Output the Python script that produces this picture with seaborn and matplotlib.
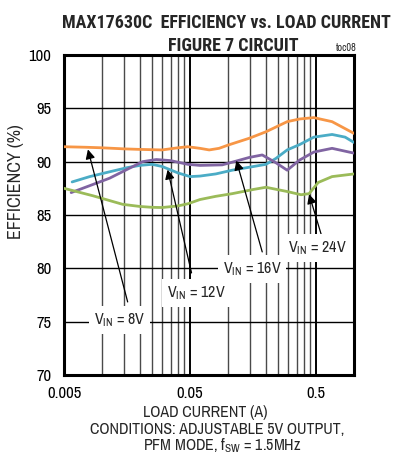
import numpy as np
import pandas as pd
import matplotlib
matplotlib.use("Agg")
import matplotlib.pyplot as plt
import seaborn as sns
from matplotlib.ticker import FixedLocator, NullFormatter

# ---------------- data ----------------
i_8v = [0.005, 0.0075, 0.01, 0.015, 0.02, 0.03, 0.04, 0.048, 0.06, 0.071, 0.085,
        0.1, 0.148, 0.2, 0.295, 0.37, 0.48, 0.67, 1.0]
eff_8v = [91.4, 91.35, 91.3, 91.2, 91.15, 91.1, 91.3, 91.4, 91.25, 91.1, 91.25,
          91.55, 92.2, 92.8, 93.75, 94.0, 94.13, 93.75, 92.65]

i_12v = [0.0058, 0.008, 0.0115, 0.016, 0.02, 0.025, 0.03, 0.04, 0.05, 0.06, 0.08,
         0.108, 0.16, 0.2, 0.24, 0.295, 0.37, 0.48, 0.67, 0.85, 1.0]
eff_12v = [88.1, 88.6, 89.05, 89.45, 89.65, 89.75, 89.55, 88.95, 88.6, 88.65, 88.85,
           89.2, 89.55, 89.75, 90.3, 91.1, 91.6, 92.3, 92.55, 92.3, 91.8]

i_16v = [0.0057, 0.008, 0.0115, 0.016, 0.021, 0.027, 0.035, 0.048, 0.06, 0.09,
         0.108, 0.148, 0.187, 0.24, 0.295, 0.37, 0.48, 0.67, 1.0]
eff_16v = [87.1, 87.75, 88.45, 89.3, 90.0, 90.2, 90.1, 89.75, 89.65, 89.7,
           89.95, 90.4, 90.63, 89.9, 89.2, 90.15, 90.9, 91.25, 90.8]

i_24v = [0.005, 0.0085, 0.0146, 0.02, 0.025, 0.03, 0.04, 0.048, 0.06, 0.08, 0.108,
         0.16, 0.2, 0.295, 0.38, 0.44, 0.52, 0.67, 1.0]
eff_24v = [87.5, 86.8, 86.0, 85.8, 85.72, 85.7, 85.85, 86.05, 86.45, 86.75, 87.0,
           87.4, 87.6, 87.2, 86.9, 87.0, 88.05, 88.6, 88.85]

series_names = ["8V", "12V", "16V", "24V"]
series_colors = ["#F79646", "#4BACC6", "#8064A2", "#9BBB59"]

x_major = [0.005, 0.05, 0.5]
x_major_labels = ["0.005", "0.05", "0.5"]
y_ticks = [70, 75, 80, 85, 90, 95, 100]

# ---------------- build frame ----------------
frames = []
for name, xs, ys in zip(series_names,
                        [i_8v, i_12v, i_16v, i_24v],
                        [eff_8v, eff_12v, eff_16v, eff_24v]):
    frames.append(pd.DataFrame({"I": xs, "eff": ys, "vin": name}))
df = pd.concat(frames, ignore_index=True)

# ---------------- style ----------------
sns.set_theme(style="white")
REG = ['Archivo Narrow', 'Liberation Sans', 'DejaVu Sans']
BOLD = ['Roboto Condensed', 'Encode Sans Condensed', 'Liberation Sans', 'DejaVu Sans']
plt.rcParams['font.family'] = REG
plt.rcParams['mathtext.fontset'] = 'custom'
plt.rcParams['mathtext.rm'] = 'Archivo Narrow'
plt.rcParams['mathtext.it'] = 'Archivo Narrow'

fig = plt.figure(figsize=(4.09, 4.67), dpi=100)
ax = fig.add_axes([64 / 409, 1 - 375 / 467, 290 / 409, 320 / 467])

sns.lineplot(data=df, x="I", y="eff", hue="vin", palette=series_colors,
             hue_order=series_names, sort=False, estimator=None, units="vin",
             linewidth=2.0, legend=False, ax=ax, zorder=3)

ax.set_xscale("log")
ax.set_xlim(0.005, 1.0)
ax.set_ylim(70, 100)

ax.xaxis.set_major_locator(FixedLocator(x_major))
ax.set_xticklabels(x_major_labels)
minor = [m * k for m in (0.005, 0.05) for k in range(2, 10)]
ax.xaxis.set_minor_locator(FixedLocator(minor))
ax.xaxis.set_minor_formatter(NullFormatter())
ax.set_yticks(y_ticks)
ax.set_yticklabels([str(v) for v in y_ticks])

ax.grid(which="major", axis="x", color="black", linewidth=1.4, zorder=1)
ax.grid(which="minor", axis="x", color="#4a4a4a", linewidth=1.0, zorder=1)
ax.grid(which="major", axis="y", color="black", linewidth=1.0, zorder=1)
ax.set_axisbelow(True)

ax.tick_params(which="both", length=0, labelsize=12, colors="black")
ax.tick_params(axis="y", pad=9)
ax.tick_params(axis="x", pad=8)
for s in ax.spines.values():
    s.set_color("black")
    s.set_linewidth(2.2)

ax.set_xlabel("")
ax.set_ylabel("")

# axis labels
fig.text(205 / 409, 1 - 412 / 467, "LOAD CURRENT (A)", ha="center", va="center",
         fontsize=11.5)
fig.text(16.5 / 409, 1 - 182 / 467, "EFFICIENCY (%)", ha="center", va="center",
         rotation=90, fontsize=13)
fig.text(217 / 409, 1 - 429 / 467, "CONDITIONS: ADJUSTABLE 5V OUTPUT,",
         ha="center", va="center", fontsize=11.5)
fig.text(222 / 409, 1 - 446 / 467, r"PFM MODE, f$_{\mathregular{SW}}$ = 1.5MHz",
         ha="center", va="center", fontsize=11.5)

# titles
fig.text(226 / 409, 1 - 23 / 467, "MAX17630C  EFFICIENCY vs. LOAD CURRENT",
         ha="center", va="center", fontsize=13, fontweight="bold", family=BOLD)
fig.text(233 / 409, 1 - 46 / 467, "FIGURE 7 CIRCUIT",
         ha="center", va="center", fontsize=13, fontweight="bold", family=BOLD)
fig.text(346 / 409, 1 - 48 / 467, "toc08", ha="center", va="center", fontsize=7.5)

# annotations
annots = [
    (r"V$_{\mathregular{IN}}$ = 8V", (0.00774, 91.15), (0.016, 76.85), (0.01386, 75.16)),
    (r"V$_{\mathregular{IN}}$ = 12V", (0.0332, 89.25), (0.0514, 79.57), (0.0563, 77.7)),
    (r"V$_{\mathregular{IN}}$ = 16V", (0.1166, 90.1), (0.187, 81.54), (0.156, 79.94)),
    (r"V$_{\mathregular{IN}}$ = 24V", (0.44, 86.95), (0.557, 82.94), (0.509, 81.9)),
]
for label, tip, tail, tpos in annots:
    ax.annotate("", xy=tip, xytext=tail,
                arrowprops=dict(arrowstyle="-|>", color="black", lw=0.9,
                                mutation_scale=14, shrinkA=0, shrinkB=0),
                zorder=4)
    ax.text(tpos[0], tpos[1], label, ha="center", va="center", fontsize=11.5,
            zorder=5,
            bbox=dict(boxstyle="square,pad=0.3", facecolor="white",
                      edgecolor="none"))

fig.savefig("out.png", dpi=100)
